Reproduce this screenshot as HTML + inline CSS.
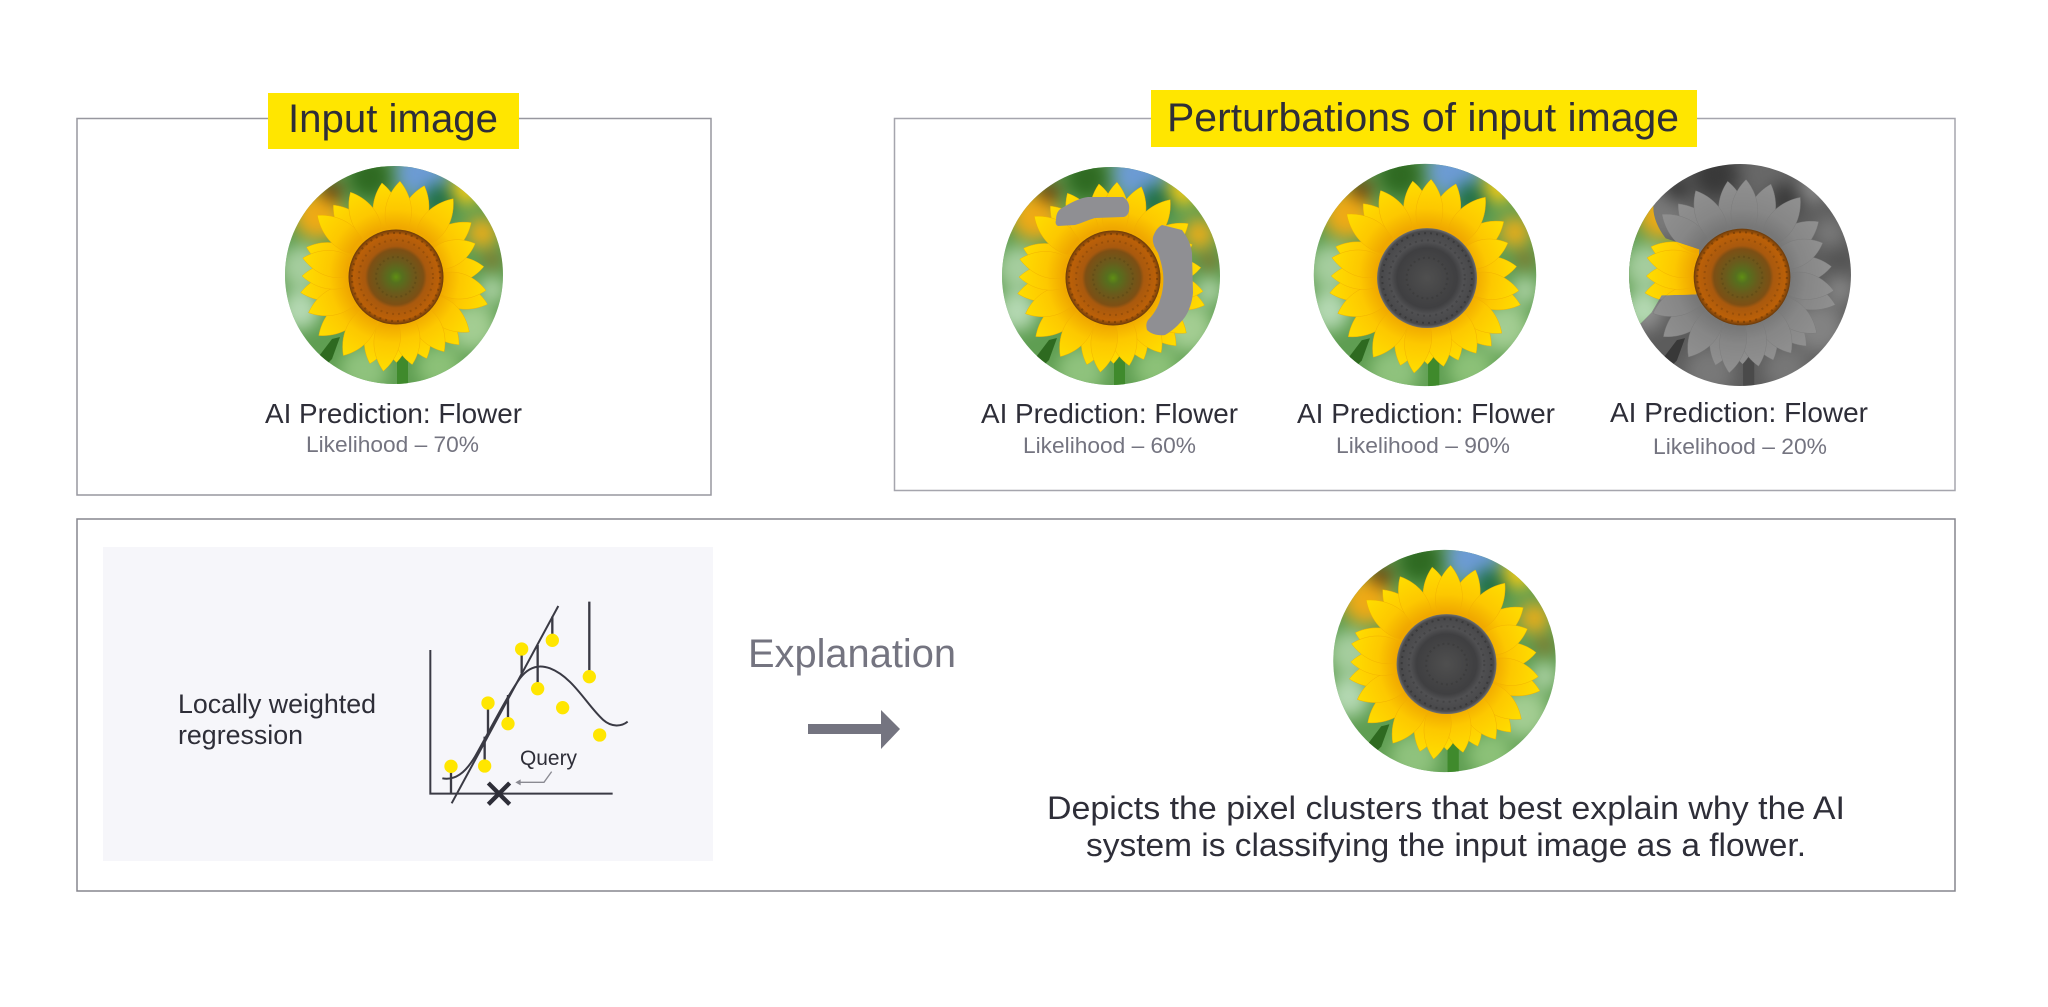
<!DOCTYPE html>
<html><head><meta charset="utf-8"><style>
html,body{margin:0;padding:0;background:#fff}
svg{display:block}
text{font-family:"Liberation Sans",sans-serif}
</style></head><body>
<svg xmlns="http://www.w3.org/2000/svg" width="2048" height="1007" viewBox="0 0 2048 1007">
<defs>
<clipPath id="cc"><circle r="109"/></clipPath>
<filter id="bl" x="-30%" y="-30%" width="160%" height="160%" color-interpolation-filters="sRGB"><feGaussianBlur stdDeviation="8"/></filter>
<filter id="gray2" x="-10%" y="-10%" width="120%" height="120%" color-interpolation-filters="sRGB"><feColorMatrix type="matrix" values=".2 .42 .08 0 0 .2 .42 .08 0 0 .2 .42 .08 0 0 0 0 0 1 0"/></filter>
<radialGradient id="pg" gradientUnits="userSpaceOnUse" cx="0" cy="0" r="96"><stop offset=".5" stop-color="#f0a800"/><stop offset=".68" stop-color="#fdc800"/><stop offset="1" stop-color="#ffe000"/></radialGradient>
<radialGradient id="dk" cx=".5" cy=".5" r=".5"><stop offset="0" stop-color="#5f8f14"/><stop offset=".13" stop-color="#56701e"/><stop offset=".35" stop-color="#6a5a1c"/><stop offset=".58" stop-color="#7d4f14"/><stop offset=".65" stop-color="#a8590e"/><stop offset=".9" stop-color="#bb6008"/><stop offset="1" stop-color="#6a3a0a"/></radialGradient>
<radialGradient id="gk" cx=".5" cy=".5" r=".5"><stop offset="0" stop-color="#4f4f4f"/><stop offset=".6" stop-color="#3f3f41"/><stop offset=".72" stop-color="#505052"/><stop offset=".94" stop-color="#48484a"/><stop offset="1" stop-color="#707070"/></radialGradient>
<path id="pt" d="M0,-33 C-19,-50 -16,-76 0,-93 C16,-76 19,-50 0,-33Z" fill="url(#pg)" stroke="#f0ae00" stroke-width=".4"/>
<g id="bg"><rect x="-115" y="-115" width="230" height="230" fill="#5f9e52"/>
<g filter="url(#bl)">
<circle cx="-92" cy="-8" r="22" fill="#a5cd9e"/><circle cx="-94" cy="35" r="20" fill="#b4d8b2"/><circle cx="78" cy="52" r="24" fill="#a3cd92"/><circle cx="-30" cy="95" r="24" fill="#8fc27d"/><circle cx="45" cy="92" r="22" fill="#8cc178"/><circle cx="98" cy="15" r="14" fill="#a9cfa0"/>
<circle cx="28" cy="-102" r="26" fill="#6c9bd4"/><circle cx="-76" cy="-60" r="24" fill="#eeaa16"/><circle cx="-62" cy="-84" r="11" fill="#6d420c"/><circle cx="-24" cy="-98" r="22" fill="#2f6a22"/><circle cx="45" cy="-75" r="16" fill="#1f6f46"/><circle cx="72" cy="-86" r="15" fill="#f2cb18"/><circle cx="88" cy="-42" r="15" fill="#e8ad1a"/><circle cx="98" cy="-15" r="8" fill="#8c6a20"/>
</g>
<path d="M-78,85 L-62,64 L-54,62 L-62,84 L-72,94Z" fill="#2e6a20"/><rect x="3" y="80" width="11" height="34" fill="#3f8a2c"/></g>
<g id="pts">
<circle r="62" fill="#eda300"/>
<use href="#pt" transform="rotate(-8) scale(1 1.01)"/><use href="#pt" transform="rotate(18) scale(1 1.02)"/><use href="#pt" transform="rotate(55)"/><use href="#pt" transform="rotate(84) scale(1 .96)"/><use href="#pt" transform="rotate(107) scale(1 1.04)"/><use href="#pt" transform="rotate(137) scale(1 1.01)"/><use href="#pt" transform="rotate(159) scale(1 .95)"/><use href="#pt" transform="rotate(179) scale(1 .93)"/><use href="#pt" transform="rotate(196) scale(1 .98)"/><use href="#pt" transform="rotate(232) scale(1 1.04)"/><use href="#pt" transform="rotate(260) scale(1 1.03)"/><use href="#pt" transform="rotate(288)"/><use href="#pt" transform="rotate(319) scale(1 1.01)"/>
<use href="#pt" transform="rotate(3) scale(1 1.02)"/><use href="#pt" transform="rotate(37) scale(1 1.04)"/><use href="#pt" transform="rotate(68) scale(1 .93)"/><use href="#pt" transform="rotate(99) scale(1 .99)"/><use href="#pt" transform="rotate(127) scale(1 1)"/><use href="#pt" transform="rotate(147) scale(1 .97)"/><use href="#pt" transform="rotate(169) scale(1 .97)"/><use href="#pt" transform="rotate(187) scale(1 1.03)"/><use href="#pt" transform="rotate(213) scale(1 1.02)"/><use href="#pt" transform="rotate(247) scale(1 1.01)"/><use href="#pt" transform="rotate(270)"/><use href="#pt" transform="rotate(281) scale(1 1.01)"/><use href="#pt" transform="rotate(308) scale(1 1.06)"/><use href="#pt" transform="rotate(332) scale(1 1.02)"/>
</g>
<g id="seeds" fill="none"><circle r="44" stroke="#000" stroke-opacity=".22" stroke-width="2" stroke-dasharray="2 4"/><circle r="37" stroke="#000" stroke-opacity=".14" stroke-width="2" stroke-dasharray="2 4"/><circle r="20" stroke="#000" stroke-opacity=".1" stroke-width="2" stroke-dasharray="2 3"/></g>
<g id="disk"><circle cx="2" cy="2" r="47.500" fill="url(#dk)"/><use href="#seeds" transform="translate(2 2)"/></g>
<g id="gdisk"><circle cx="2" cy="3" r="49" fill="url(#gk)"/><use href="#seeds" transform="translate(2 3)"/></g>
<g id="head"><use href="#pts" transform="translate(1 1)"/></g>
<g id="base"><use href="#bg"/><use href="#head"/></g>
<g id="fc" clip-path="url(#cc)"><use href="#base"/><use href="#disk"/></g>
<g id="fg" clip-path="url(#cc)"><use href="#base"/><use href="#gdisk"/></g>
<clipPath id="c4b"><path d="M-83,-76 C-88,-66 -84,-50 -73,-36 L-40,-25 L-43,19 L-77,20 L-87,37 L-100,50 L-130,50 L-130,-76Z"/></clipPath>
</defs>

<rect width="2048" height="1007" fill="#fff"/>

<!-- boxes -->
<rect x="77" y="118.500" width="634" height="376.500" fill="none" stroke="#97979f" stroke-width="1.500"/>
<rect x="894.500" y="118.500" width="1060.500" height="372" fill="none" stroke="#a5a5ad" stroke-width="1.500"/>
<rect x="77" y="519" width="1878" height="372" fill="none" stroke="#85858d" stroke-width="1.500"/>
<rect x="103" y="547" width="610" height="314" fill="#f6f6fa"/>

<!-- titles -->
<rect x="268" y="93" width="251" height="56" fill="#ffe600"/>
<text x="288" y="132" font-size="40" fill="#2e2e38" textLength="210" lengthAdjust="spacingAndGlyphs">Input image</text>
<rect x="1151" y="90" width="546" height="57" fill="#ffe600"/>
<text x="1167" y="131" font-size="40" fill="#2e2e38" textLength="512" lengthAdjust="spacingAndGlyphs">Perturbations of input image</text>

<!-- flowers -->
<use href="#fc" transform="translate(394 275)"/>

<use href="#fc" transform="translate(1111 276)"/>
<g fill="#8f8f93">
<path d="M1056,220 C1056,214 1058,210 1062,208 C1072,202 1080,198 1088,197 L1123,197 C1128,200 1130,205 1129,210 C1129,214 1126,217 1123,217 L1095,218 C1088,220 1082,223 1075,225 L1058,226 C1056,225 1055,223 1056,220Z"/>
<path d="M1153,237 C1155,231 1158,227 1162,225 L1182,230 C1188,238 1191,245 1192,253 L1193,293 C1192,303 1189,311 1185,317 C1178,326 1172,331 1165,335 C1158,336 1151,334 1147,330 C1146,326 1146,323 1148,320 C1154,314 1158,307 1160,300 C1163,291 1164,282 1163,273 C1162,265 1160,259 1158,253 C1155,248 1152,243 1153,237Z"/>
</g>

<use href="#fg" transform="translate(1425 275) scale(1.02)"/>

<g transform="translate(1740 275) scale(1.018)" clip-path="url(#cc)">
<g filter="url(#gray2)"><use href="#base"/></g>
<g clip-path="url(#c4b)"><use href="#base"/></g>
<use href="#disk"/>
</g>

<use href="#fg" transform="translate(1444.500 661) scale(1.02)"/>

<!-- labels -->
<g font-size="28" fill="#2e2e38">
<text x="265" y="423" textLength="257" lengthAdjust="spacingAndGlyphs">AI Prediction: Flower</text>
<text x="981" y="423" textLength="257" lengthAdjust="spacingAndGlyphs">AI Prediction: Flower</text>
<text x="1297" y="423" textLength="258" lengthAdjust="spacingAndGlyphs">AI Prediction: Flower</text>
<text x="1610" y="422" textLength="258" lengthAdjust="spacingAndGlyphs">AI Prediction: Flower</text>
</g>
<g font-size="22.500" fill="#747480">
<text x="306" y="452" textLength="173" lengthAdjust="spacingAndGlyphs">Likelihood – 70%</text>
<text x="1023" y="453" textLength="173" lengthAdjust="spacingAndGlyphs">Likelihood – 60%</text>
<text x="1336" y="453" textLength="174" lengthAdjust="spacingAndGlyphs">Likelihood – 90%</text>
<text x="1653" y="454" textLength="174" lengthAdjust="spacingAndGlyphs">Likelihood – 20%</text>
</g>

<!-- regression panel -->
<g font-size="26.500" fill="#2e2e38">
<text x="178" y="713" textLength="198" lengthAdjust="spacingAndGlyphs">Locally weighted</text>
<text x="178" y="744" textLength="125" lengthAdjust="spacingAndGlyphs">regression</text>
</g>
<g transform="translate(410 590) scale(.3333)" fill="none" stroke="#3a3a44">
<path d="M61,180 V611 H608" stroke-width="6"/>
<path d="M125,640 L445,48" stroke-width="6"/>
<path d="M97,565 C135,572 165,550 195,500 C235,430 290,320 330,265 C355,232 385,222 420,235 C490,262 530,345 580,390 C605,412 635,410 653,395" stroke-width="6"/>
<path d="M123,540 V611 M224,528 V440 M234,339 V430 M294,401 V315 M335,177 V250 M383,296 V165 M427,151 V80 M538,260 V35" stroke-width="7"/>
<path d="M235,579 L299,643 M299,579 L235,643" stroke-width="13" stroke="#2e2e38"/>
<path d="M425,545 L402,577 H325" stroke-width="4" stroke="#8a8a92"/>
<path d="M316,577 L332,568 V586Z" fill="#8a8a92" stroke="none"/>
<g fill="#ffe600" stroke="none">
<circle cx="123" cy="529" r="20"/><circle cx="224" cy="528" r="20"/><circle cx="234" cy="339" r="20"/><circle cx="294" cy="401" r="20"/><circle cx="335" cy="177" r="20"/><circle cx="383" cy="296" r="20"/><circle cx="427" cy="151" r="20"/><circle cx="538" cy="260" r="20"/><circle cx="458" cy="353" r="20"/><circle cx="569" cy="435" r="20"/>
</g>
</g>
<text x="520" y="765" font-size="21" fill="#2e2e38" textLength="57" lengthAdjust="spacingAndGlyphs">Query</text>

<!-- explanation -->
<text x="748" y="667" font-size="40" fill="#747480" textLength="208" lengthAdjust="spacingAndGlyphs">Explanation</text>
<path d="M808,724 H881 V710 L900,729 L881,749 V734 H808Z" fill="#747480"/>

<text x="1047" y="819" font-size="32.500" fill="#2e2e38" textLength="798" lengthAdjust="spacingAndGlyphs">Depicts the pixel clusters that best explain why the AI</text>
<text x="1086" y="856" font-size="32.500" fill="#2e2e38" textLength="720" lengthAdjust="spacingAndGlyphs">system is classifying the input image as a flower.</text>
</svg>
</body></html>
